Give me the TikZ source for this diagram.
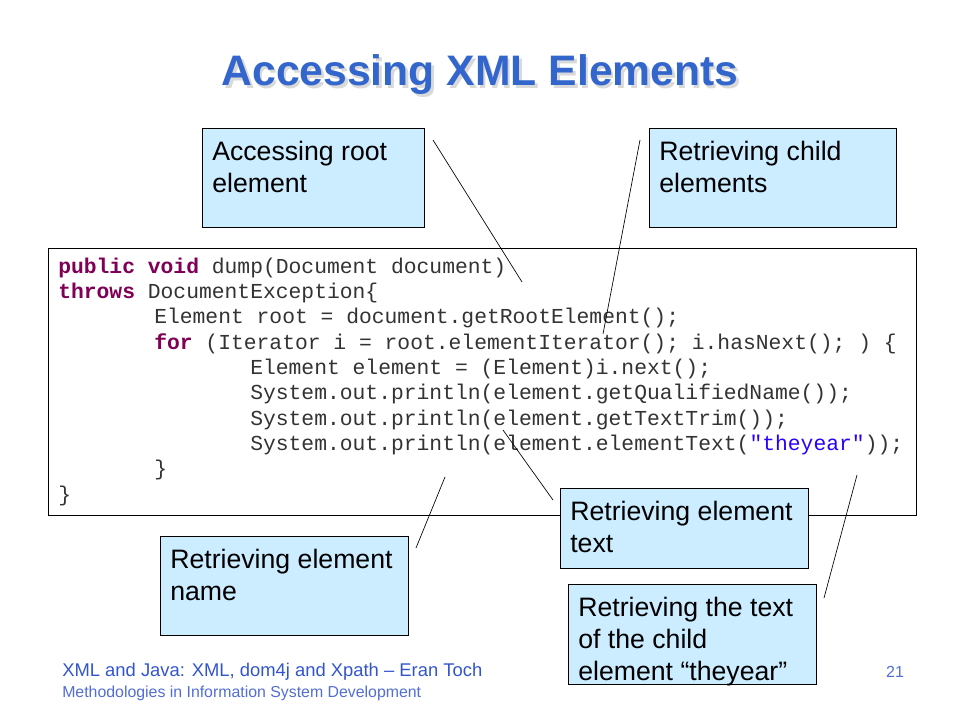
\documentclass[tikz,border=0pt]{standalone}
\usepackage{fontspec}
\setmainfont{Liberation Sans}
\setmonofont{Liberation Mono}
\definecolor{titleblue}{RGB}{51,102,204}
\definecolor{notefill}{RGB}{204,236,255}
\definecolor{keyword}{RGB}{127,0,85}
\definecolor{strblue}{RGB}{42,0,255}
\definecolor{footblue}{RGB}{51,85,204}
\newcommand{\kw}[1]{\textcolor{keyword}{\textbf{#1}}}
\tikzset{
  notebox/.style={draw=black, fill=notefill, line width=0.8pt, anchor=north west, inner sep=0pt},
  notetext/.style={anchor=north west, align=left, inner sep=0pt, font=\fontsize{20}{24}\selectfont},
  pointer/.style={line width=0.5pt},
}

\begin{document}
\begin{tikzpicture}[x=0.75pt,y=-0.75pt]
  \useasboundingbox (0,0) rectangle (960,720);
  % title with its shadow
  \node[text=gray!30, font=\fontsize{32}{38}\selectfont\bfseries] (titleshadow) at (482.5,77.5) {Accessing XML Elements};
  \node[text=titleblue, font=\fontsize{32}{38}\selectfont\bfseries] (title) at (480,75) {Accessing XML Elements};
  % code listing
  \node[notebox, fill=white, minimum width=651pt, minimum height=200.25pt] (code) at (48,248) {};
  \node[anchor=north west, align=left, inner sep=0pt, text=black!80, font=\ttfamily\fontsize{16}{19}\selectfont] (listing) at (58,257.5) {%
\kw{public} \kw{void} dump(Document document)\\
\kw{throws} DocumentException\{\\
\hspace*{72pt}Element root = document.getRootElement();\\
\hspace*{72pt}\kw{for} (Iterator i = root.elementIterator(); i.hasNext(); ) \{\\
\hspace*{144pt}Element element = (Element)i.next();\\
\hspace*{144pt}System.out.println(element.getQualifiedName());\\
\hspace*{144pt}System.out.println(element.getTextTrim());\\
\hspace*{144pt}System.out.println(element.elementText(\textcolor{strblue}{"theyear"}));\\
\hspace*{72pt}\}\\
\}};
  % notes
  \node[notebox, minimum width=166.5pt, minimum height=74.25pt] (root) at (202,128) {};
  \node[notetext] at ([shift={(10,13)}]root.north west) {Accessing root\\element};
  \node[notebox, minimum width=185.25pt, minimum height=74.25pt] (child) at (649,128) {};
  \node[notetext] at ([shift={(10,13)}]child.north west) {Retrieving child\\elements};
  \node[notebox, minimum width=186pt, minimum height=60pt] (elemtext) at (560,488) {};
  \node[notetext] at ([shift={(10,13)}]elemtext.north west) {Retrieving element\\text};
  \node[notebox, minimum width=186pt, minimum height=74.25pt] (elemname) at (160,536) {};
  \node[notetext] at ([shift={(10,13)}]elemname.north west) {Retrieving element\\name};
  \node[notebox, minimum width=186pt, minimum height=75pt] (theyear) at (568,584) {};
  \node[notetext] at ([shift={(10,13)}]theyear.north west) {Retrieving the text\\of the child\\element “theyear”};
  % pointers
  \coordinate (rootA) at (433,140);  \coordinate (rootB) at (522,282);
  \coordinate (childA) at (640,140); \coordinate (childB) at (603,334);
  \coordinate (nameA) at (416,548);  \coordinate (nameB) at (445,477);
  \coordinate (textA) at (553,500);  \coordinate (textB) at (503,430);
  \coordinate (yearA) at (824,598);  \coordinate (yearB) at (857,475);
  \draw[pointer] (rootA) -- (rootB);
  \draw[pointer] (childA) -- (childB);
  \draw[pointer] (nameA) -- (nameB);
  \draw[pointer] (textA) -- (textB);
  \draw[pointer] (yearA) -- (yearB);
  % footer
  \node[anchor=west, inner sep=0pt, text=footblue, font=\fontsize{13.8}{16}\selectfont] (foot) at (62,672) {XML and Java: XML, dom4j and Xpath – Eran Toch};
  \node[anchor=west, inner sep=0pt, text=footblue!85, font=\fontsize{11.9}{14}\selectfont] (course) at (62,693) {Methodologies in Information System Development};
  \node[text=footblue!85, font=\fontsize{12}{14}\selectfont] (page) at (895,672) {21};
\end{tikzpicture}
\end{document}
